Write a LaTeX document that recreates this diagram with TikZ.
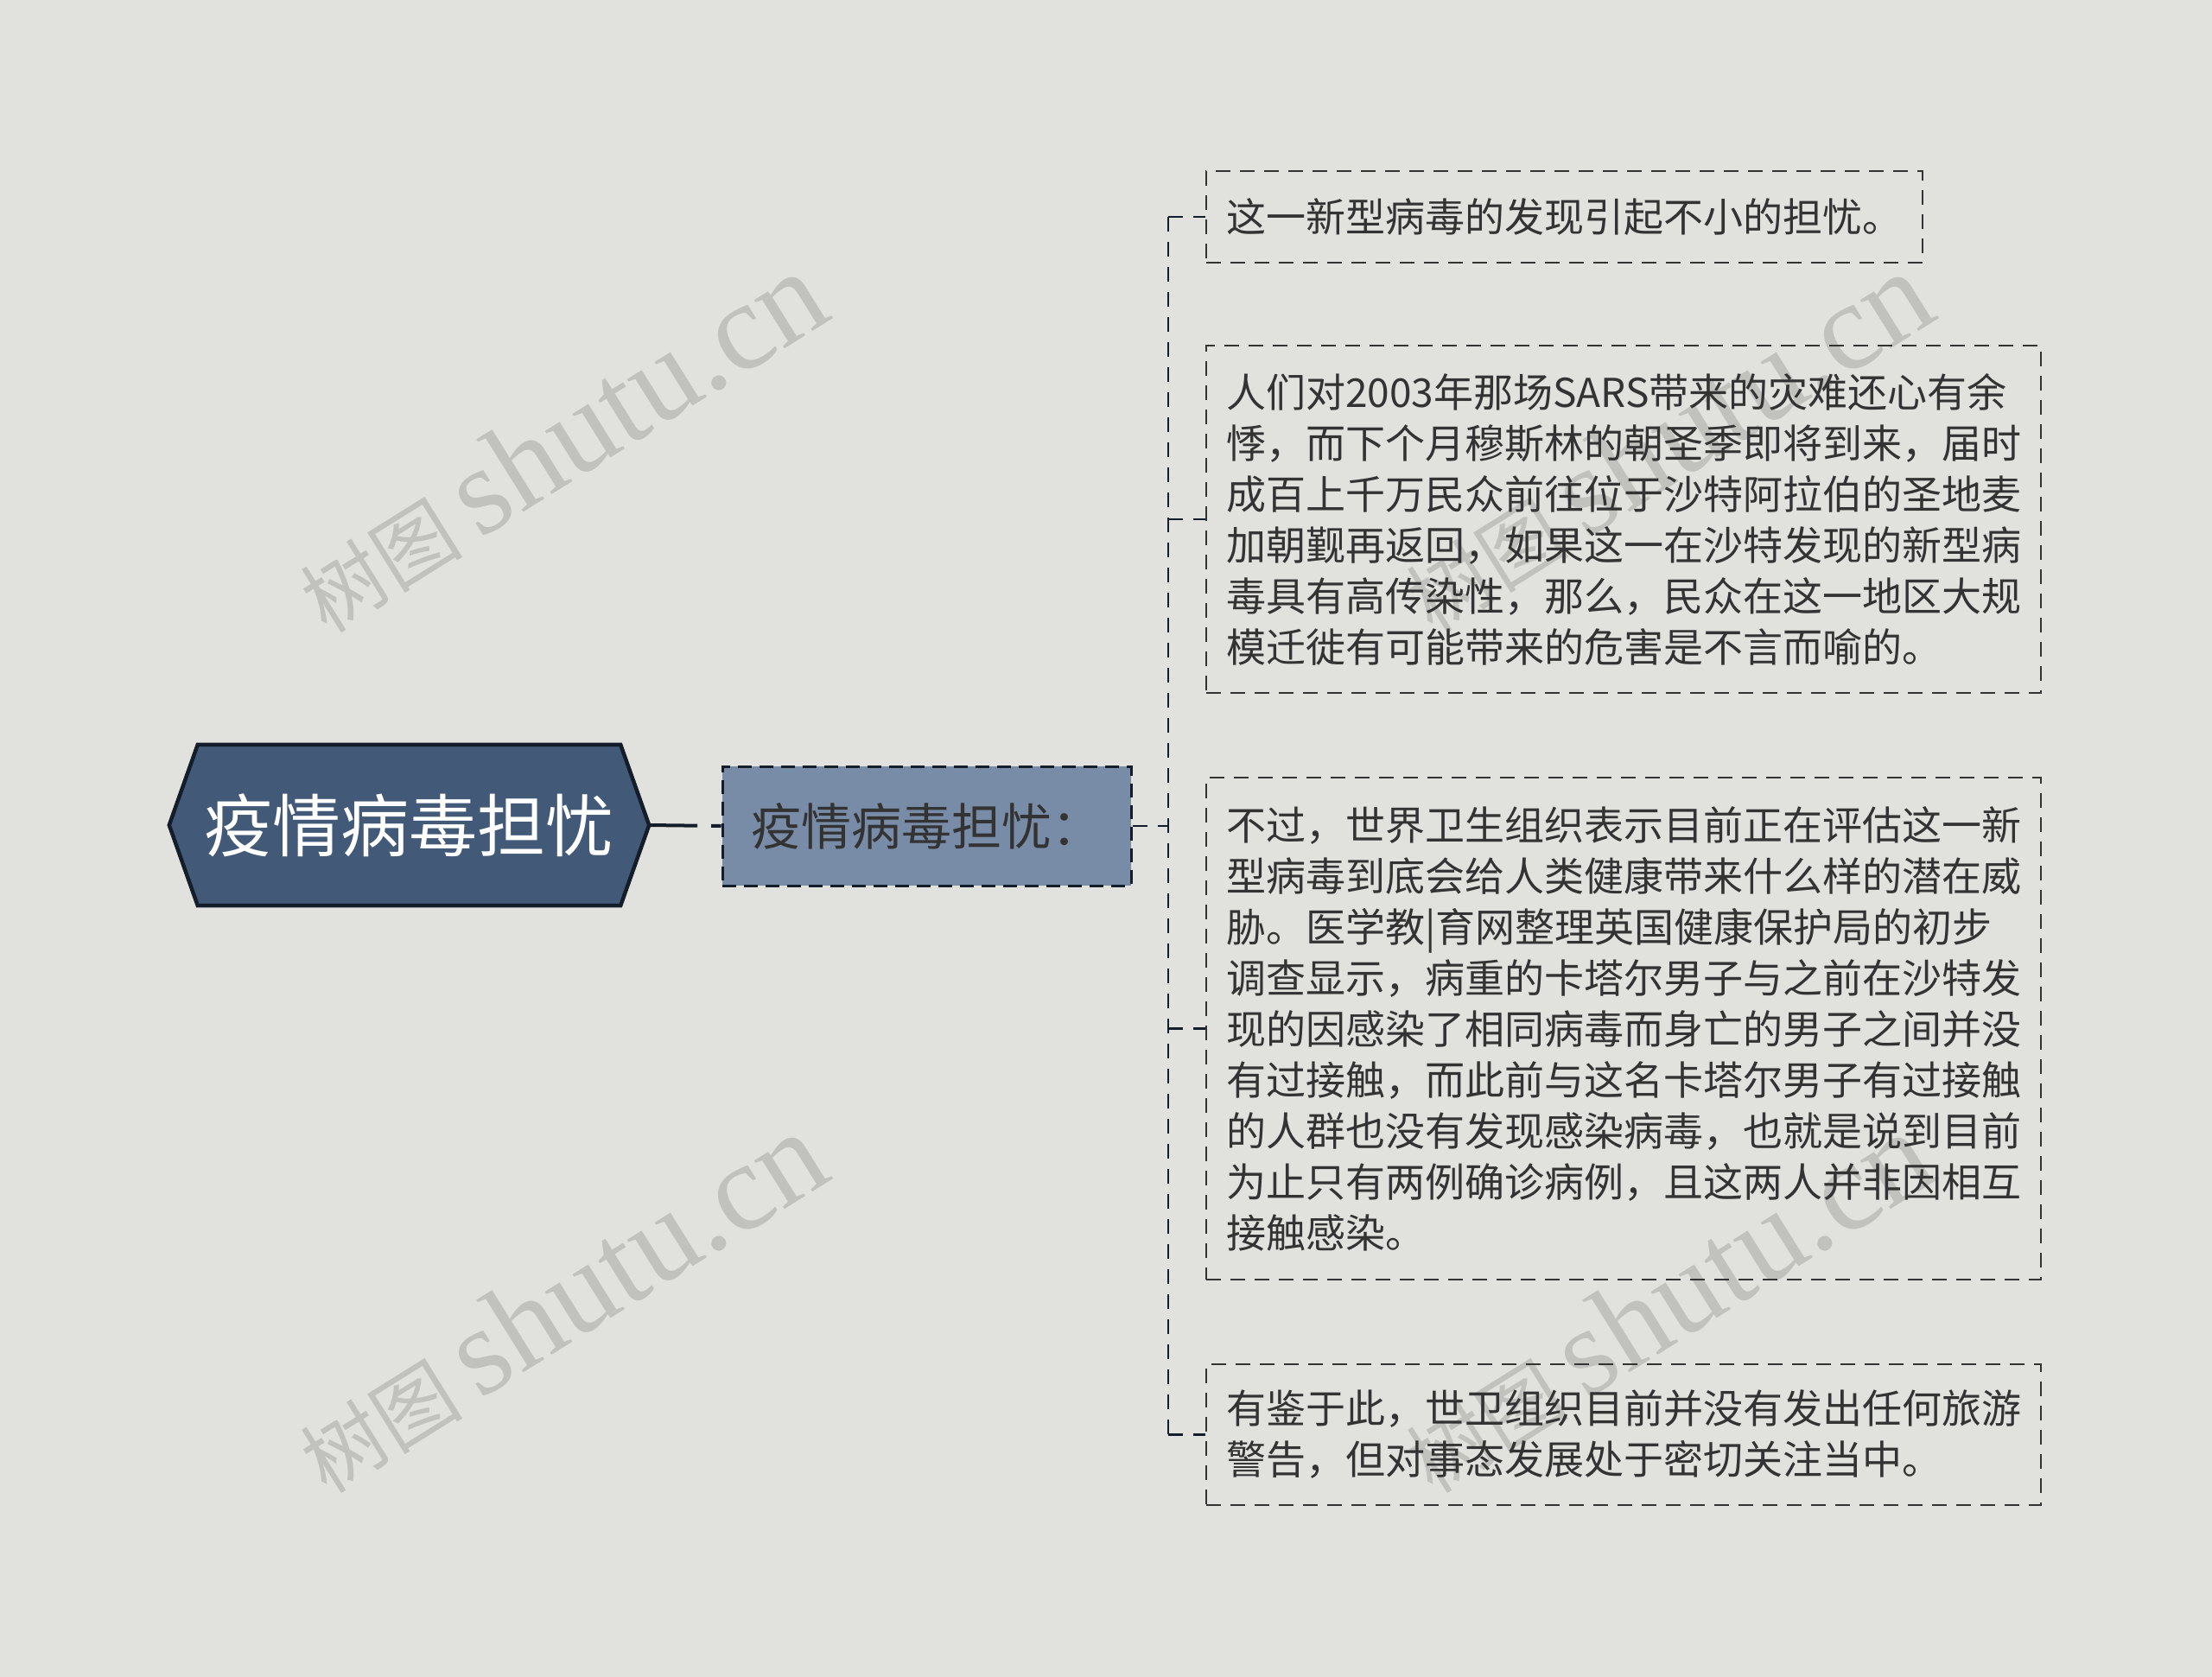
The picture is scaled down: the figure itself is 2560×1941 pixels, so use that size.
\documentclass[tikz,border=0pt]{standalone}
\usepackage{fontspec}
\setmainfont{Noto Sans CJK SC}
\newfontfamily\wmlatin{Liberation Serif}
\usetikzlibrary{calc,backgrounds}
\definecolor{bg}{RGB}{225,226,222}
\definecolor{rootfill}{RGB}{66,89,120}
\definecolor{rootdraw}{RGB}{20,30,42}
\definecolor{midfill}{RGB}{120,140,168}
\definecolor{txt}{RGB}{51,51,51}
\definecolor{wm}{RGB}{193,194,189}
\tikzset{
  wmark/.style={text=wm, rotate=32, inner sep=0, font=\fontsize{94}{100}\selectfont},
  roottext/.style={minimum width=555, minimum height=186, inner sep=0, text=white,
    font=\fontsize{79}{90}\selectfont},
  rootshape/.style={fill=rootfill, draw=rootdraw, line width=4.5, line join=miter},
  midnode/.style={minimum width=473, minimum height=138, inner sep=0, fill=midfill,
    draw=rootdraw, line width=3, dash pattern=on 16 off 9, text=txt,
    font=\fontsize{58}{66}\selectfont},
  childbox/.style={draw=txt, line width=2.5, dash pattern=on 17 off 11, text=txt,
    inner xsep=23, inner ysep=0, align=left, font=\fontsize{46}{59}\selectfont},
  conn/.style={draw=rootdraw, line width=2.6, dash pattern=on 17 off 12},
  rootconn/.style={draw=rootdraw, line width=4, dash pattern=on 56 off 16 on 13 off 100}
}
\newcommand{\wmtext}{树图 {\wmlatin\fontsize{144}{150}\selectfont shutu.cn}}
\begin{document}
\begin{tikzpicture}[x=1pt,y=-1pt]
\useasboundingbox (0,0) rectangle (2560,1941);
% nodes
\node[roottext] (root) at (473.5,955) {疫情病毒担忧};
\node[midnode] (mid) at (1072.5,956) {疫情病毒担忧：};
\node[childbox, text width=783, minimum height=106] (c1) at (1810.5,251)
  {这一新型病毒的发现引起不小的担忧。};
\node[childbox, text width=920, minimum height=402] (c2) at (1879,601)
  {人们对2003年那场SARS带来的灾难还心有余\\
   悸，而下个月穆斯林的朝圣季即将到来，届时\\
   成百上千万民众前往位于沙特阿拉伯的圣地麦\\
   加朝觐再返回，如果这一在沙特发现的新型病\\
   毒具有高传染性，那么，民众在这一地区大规\\
   模迁徙有可能带来的危害是不言而喻的。};
\node[childbox, text width=920, minimum height=581] (c3) at (1879,1190.5)
  {不过，世界卫生组织表示目前正在评估这一新\\
   型病毒到底会给人类健康带来什么样的潜在威\\
   胁。医学教|育网整理英国健康保护局的初步\\
   调查显示，病重的卡塔尔男子与之前在沙特发\\
   现的因感染了相同病毒而身亡的男子之间并没\\
   有过接触，而此前与这名卡塔尔男子有过接触\\
   的人群也没有发现感染病毒，也就是说到目前\\
   为止只有两例确诊病例，且这两人并非因相互\\
   接触感染。};
\node[childbox, text width=920, minimum height=163] (c4) at (1879,1660.5)
  {有鉴于此，世卫组织目前并没有发出任何旅游\\
   警告，但对事态发展处于密切关注当中。};
% background layer: page, watermarks, root hexagon
\begin{scope}[on background layer]
  \fill[bg] (0,0) rectangle (2560,1941);
  \node[wmark] (w1) at (648,512) {\wmtext};
  \node[wmark] (w2) at (1928,512) {\wmtext};
  \node[wmark] (w3) at (648,1508) {\wmtext};
  \node[wmark] (w4) at (1928,1508) {\wmtext};
  \draw[rootshape] (root.west) -- ($(root.north west)+(33,0)$) -- ($(root.north east)+(-33,0)$)
    -- (root.east) -- ($(root.south east)+(-33,0)$) -- ($(root.south west)+(33,0)$) -- cycle;
\end{scope}
% connectors
\coordinate (tm) at (1352,956);
\coordinate (t1) at (1352,251);
\coordinate (t2) at (1352,601);
\coordinate (t3) at (1352,1190.5);
\coordinate (t4) at (1352,1660.5);
\draw[rootconn] (root.east) -- (mid.west);
\draw[conn] (mid.east) -- (tm);
\draw[conn] (t1) -- (t4);
\draw[conn] (t1) -- (c1.west);
\draw[conn] (t2) -- (c2.west);
\draw[conn] (t3) -- (c3.west);
\draw[conn] (t4) -- (c4.west);
\end{tikzpicture}
\end{document}
